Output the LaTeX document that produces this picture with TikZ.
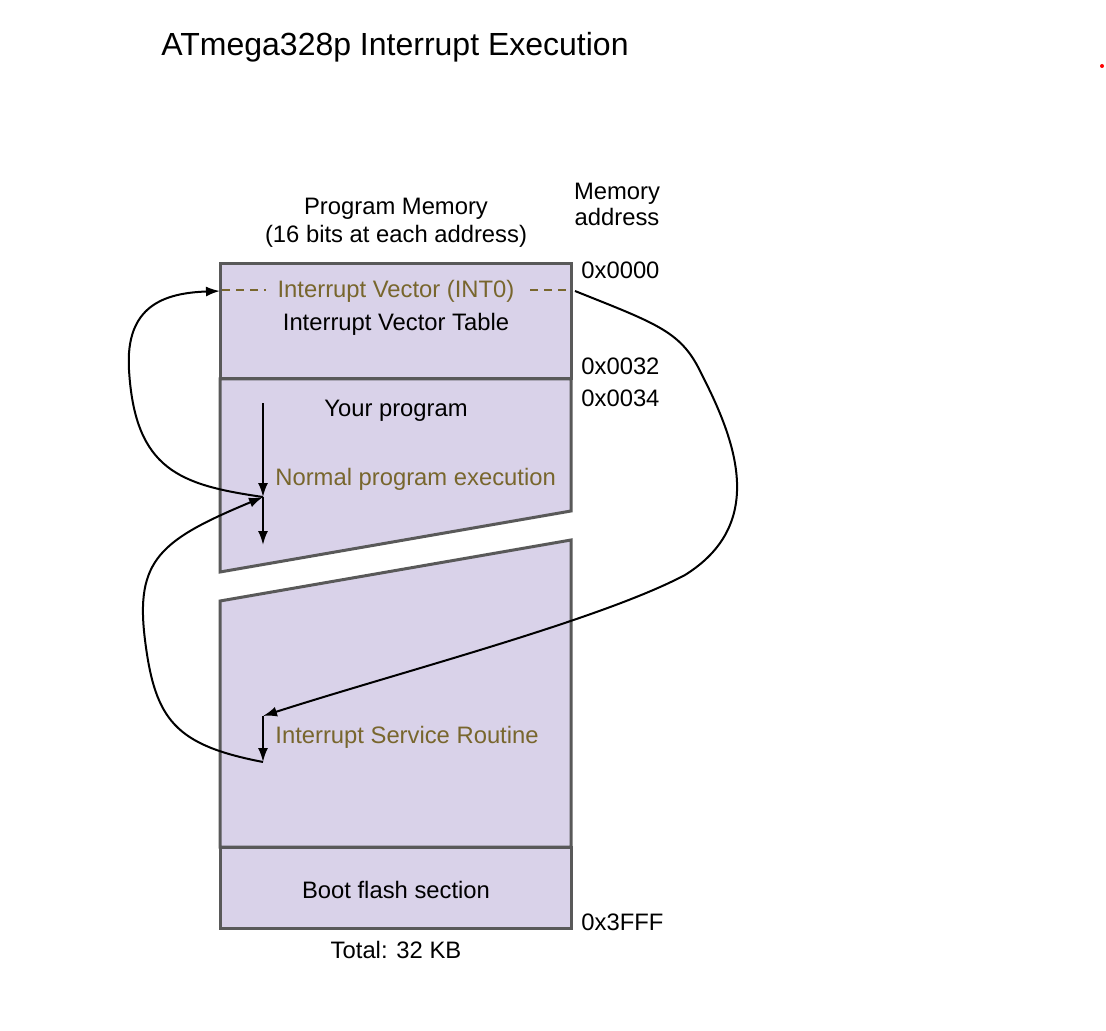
\documentclass[tikz,border=0pt]{standalone}
\usepackage{fontspec}
\setmainfont{Liberation Sans}
\usetikzlibrary{arrows.meta}
\definecolor{memfill}{HTML}{D9D2E9}
\definecolor{memline}{HTML}{595959}
\definecolor{olive}{RGB}{120,102,45}
\begin{document}
\begin{tikzpicture}[x=0.5pt,y=-0.5pt,
  block/.style={draw=memline,fill=memfill,line width=1.5pt,line join=miter},
  lbl/.style={font=\fontsize{11.9}{14}\selectfont,inner sep=0pt},
  hot/.style={lbl,text=olive},
  flow/.style={line width=1pt,-{Latex[length=7pt,width=5pt]}}]
\tikzstyle{every node}+=[inner sep=0pt]
\useasboundingbox (0,0) rectangle (1106,1031);
% title
\node [anchor=west,font=\fontsize{16}{19}\selectfont] (title) at (161,47) {ATmega328p Interrupt Execution};
\fill [red] (1102,66) circle (2);
% memory blocks
\draw [block] (220,264) rectangle (571,379);
\draw [block] (220,379) -- (571,379) -- (571,511) -- (220,572) -- cycle;
\draw [block] (220,601) -- (571,540) -- (571,847) -- (220,847) -- cycle;
\draw [block] (220,847) rectangle (571,928);
\draw [olive,line width=1pt,dash pattern=on 4pt off 3pt] (222,290) -- (571,290);
% headings
\node [lbl,align=center] (pmem) at (396,223) {Program Memory\\[0pt](16 bits at each address)};
\node [lbl,align=center] (maddr) at (617,204) {Memory\\[-1pt]address};
\node [lbl] (total) at (396,950) {Total: 32 KB};
% addresses
\node [lbl,anchor=west] (a0) at (581,270) {0x0000};
\node [lbl,anchor=west] (a32) at (581,366) {0x0032};
\node [lbl,anchor=west] (a34) at (581,398) {0x0034};
\node [lbl,anchor=west] (aend) at (581,922) {0x3FFF};
% block texts
\node [hot,fill=memfill,inner xsep=6pt,minimum height=16pt] (vec) at (396,291) {Interrupt Vector (INT0)};
\node [lbl] (ivt) at (396,324) {Interrupt Vector Table};
\node [lbl] (prog) at (396,411) {Your program};
\node [hot,anchor=west] (normal) at (275,479) {Normal program execution};
\node [hot,anchor=west] (isr) at (275,737) {Interrupt Service Routine};
\node [lbl] (boot) at (396,890) {Boot flash section};
% flow points
\coordinate (p0) at (263,403);
\coordinate (pint) at (263,497);
\coordinate (pnext) at (263,545);
\coordinate (vin) at (220,291);
\coordinate (vout) at (575,291);
\coordinate (s0) at (263,716);
\coordinate (s1) at (263,762);
\draw [flow] (p0) -- (pint);
\draw [flow] (pint) -- (pnext);
\draw [flow] (s0) -- (s1);
\draw [flow] (pint) .. controls (180,485) and (135,470) .. (129,370) .. controls (125,305) and (165,293) .. (vin);
\draw [flow] (vout) .. controls (660,325) and (682,332) .. (702,375) .. controls (738,445) and (765,525) .. (685,575) .. controls (600,620) and (400,672) .. (s0);
\draw [flow] (s1) .. controls (175,745) and (155,720) .. (145,640) .. controls (135,560) and (160,540) .. (pint);
\end{tikzpicture}
\end{document}
